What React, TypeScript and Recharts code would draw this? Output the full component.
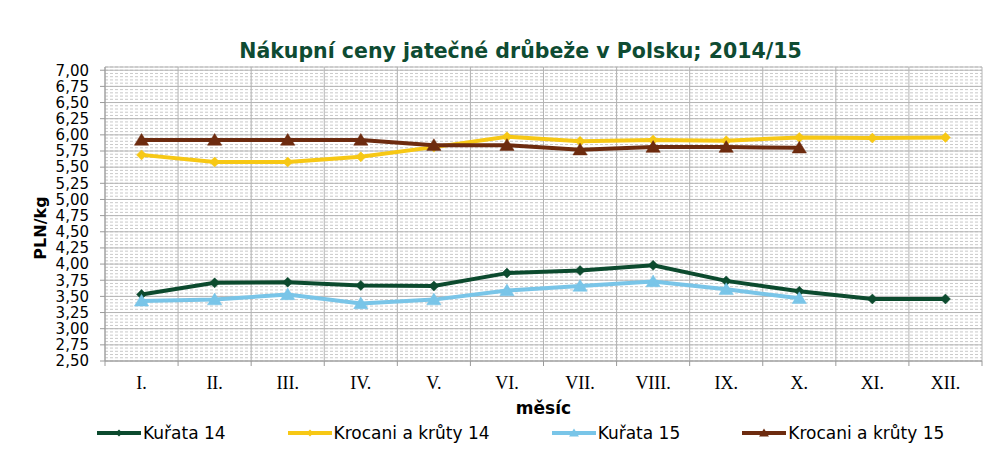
import React from 'react';
import { LineChart, Line, XAxis, YAxis, CartesianGrid, Legend, ReferenceLine } from 'recharts';

const months = ['I.', 'II.', 'III.', 'IV.', 'V.', 'VI.', 'VII.', 'VIII.', 'IX.', 'X.', 'XI.', 'XII.'];
const kurata14 = [3.53, 3.71, 3.72, 3.67, 3.66, 3.86, 3.9, 3.98, 3.74, 3.58, 3.46, 3.46];
const krocani14 = [5.69, 5.58, 5.58, 5.66, 5.81, 5.97, 5.9, 5.92, 5.91, 5.96, 5.95, 5.96];
const kurata15 = [3.43, 3.45, 3.53, 3.39, 3.45, 3.59, 3.66, 3.73, 3.61, 3.47, null, null];
const krocani15 = [5.92, 5.92, 5.92, 5.92, 5.84, 5.84, 5.77, 5.81, 5.81, 5.8, null, null];

const yTicks = [2.5, 2.75, 3.0, 3.25, 3.5, 3.75, 4.0, 4.25, 4.5, 4.75, 5.0, 5.25, 5.5, 5.75, 6.0, 6.25, 6.5, 6.75, 7.0];
const Y_MIN = 2.5;
const Y_MAX = 7.05;
const MINOR_STEP = 0.05;
const minorTicks: number[] = [];
for (let v = Y_MIN; v <= Y_MAX + 1e-9; v += MINOR_STEP) minorTicks.push(Math.round(v * 100) / 100);

const data = months.map((m, i) => ({
  m,
  k14: kurata14[i],
  t14: krocani14[i],
  k15: kurata15[i],
  t15: krocani15[i],
}));

type Series = { key: string; name: string; color: string; shape: 'diamond' | 'triangle' };
const series: Series[] = [
  { key: 'k14', name: 'Kuřata 14', color: '#0c4a2e', shape: 'diamond' },
  { key: 't14', name: 'Krocani a krůty 14', color: '#f7c815', shape: 'diamond' },
  { key: 'k15', name: 'Kuřata 15', color: '#79c5e8', shape: 'triangle' },
  { key: 't15', name: 'Krocani a krůty 15', color: '#6d2b0f', shape: 'triangle' },
];

const markerPath = (shape: string, cx: number, cy: number, r: number) =>
  shape === 'diamond'
    ? `M${cx},${cy - r}L${cx + r},${cy}L${cx},${cy + r}L${cx - r},${cy}Z`
    : `M${cx},${cy - r}L${cx + r * 1.1},${cy + r * 0.8}L${cx - r * 1.1},${cy + r * 0.8}Z`;

const makeDot = (s: Series) => (props: any) => {
  const { cx, cy, index, value } = props;
  if (cx == null || cy == null || value == null || Number.isNaN(cy)) return <g key={`d-${s.key}-${index}`} />;
  const r = s.shape === 'diamond' ? 5 : 6.5;
  return <path key={`d-${s.key}-${index}`} d={markerPath(s.shape, cx, cy, r)} fill={s.color} stroke={s.color} strokeWidth={0.5} />;
};

const renderLegend = () => (
  <div
    style={{
      display: 'flex',
      alignItems: 'center',
      paddingLeft: 97,
      gap: 62,
      fontFamily: '"DejaVu Sans", Verdana, sans-serif',
      fontSize: 17,
      color: '#000',
      height: 20,
      lineHeight: '20px',
    }}
  >
    {series.map((s) => (
      <div key={s.key} style={{ display: 'flex', alignItems: 'center' }}>
        <svg width={44} height={14} style={{ display: 'block' }}>
          <line x1={0} y1={7} x2={44} y2={7} stroke={s.color} strokeWidth={4} />
          <path d={markerPath(s.shape, 22, 7, s.shape === 'diamond' ? 3.5 : 4.5)} fill={s.color} />
        </svg>
        <span style={{ marginLeft: 2, whiteSpace: 'nowrap' }}>{s.name}</span>
      </div>
    ))}
  </div>
);

const fmt = (v: number) => v.toFixed(2).replace('.', ',');
const GRID = '#b4b4b4';
const MINOR = '#c9c9c9';
const AXIS = '#9a9a9a';
const X_TICK_MARGIN = 15;

// vertical gridlines at category band boundaries, taken from the category axis range
const boundaryGen = (args: any) => {
  const ax = args?.xAxis;
  if (!ax) return [];
  let r: any = ax.range;
  const s = ax.scale;
  if ((!r || r.length < 2) && s && typeof s.range === 'function') r = s.range();
  if (!r || r.length < 2) {
    const off = args.offset;
    if (!off) return [];
    r = [off.left, off.left + off.width];
  }
  const a = Math.min(r[0], r[1]);
  const b = Math.max(r[0], r[1]);
  const n = months.length;
  return Array.from({ length: n + 1 }, (_, i) => a + ((b - a) * i) / n);
};

const XTick = (props: any) => {
  const { x, y, payload, index, visibleTicksCount, width } = props;
  let half = payload && payload.offset > 3 ? payload.offset : 0;
  if (!half && width && visibleTicksCount) half = width / visibleTicksCount / 2;
  const axisY = y - X_TICK_MARGIN;
  return (
    <g>
      <line x1={x - half} x2={x - half} y1={axisY} y2={axisY + 5} stroke={AXIS} />
      {index === visibleTicksCount - 1 && <line x1={x + half} x2={x + half} y1={axisY} y2={axisY + 5} stroke={AXIS} />}
      <text
        x={x}
        y={y}
        dy="0.71em"
        textAnchor="middle"
        style={{ fontFamily: '"Liberation Serif", "Times New Roman", serif', fontSize: 18, fill: '#000' }}
      >
        {payload.value}
      </text>
    </g>
  );
};

export default function App() {
  return (
    <div style={{ position: 'absolute', left: 0, top: 0, width: 1004, height: 455, background: '#fff' }}>
      <div
        style={{
          position: 'absolute',
          left: 0,
          top: 39,
          width: 1041,
          textAlign: 'center',
          fontFamily: '"DejaVu Sans", Verdana, sans-serif',
          fontWeight: 'bold',
          fontSize: 20.5,
          lineHeight: '24px',
          color: '#0e4b32',
          whiteSpace: 'nowrap',
        }}
      >
        Nákupní ceny jatečné drůbeže v Polsku; 2014/15
      </div>
      <LineChart width={1004} height={455} data={data} margin={{ top: 67, right: 22, bottom: 44, left: 0 }}>
        <YAxis
          yAxisId="main"
          type="number"
          width={105}
          domain={[Y_MIN, Y_MAX]}
          allowDataOverflow
          ticks={yTicks}
          interval={0}
          tickFormatter={fmt}
          tickSize={5}
          tickMargin={11}
          tick={{ fontFamily: '"DejaVu Sans", Verdana, sans-serif', fontSize: 15, fill: '#000' }}
          axisLine={{ stroke: AXIS }}
          tickLine={{ stroke: AXIS }}
          label={{
            content: () => (
              <text
                x={46}
                y={228}
                transform="rotate(-90 46 228)"
                textAnchor="middle"
                style={{ fontFamily: '"DejaVu Sans", Verdana, sans-serif', fontWeight: 'bold', fontSize: 16, fill: '#000' }}
              >
                PLN/kg
              </text>
            ),
          }}
        />
        <XAxis
          xAxisId="cat"
          dataKey="m"
          scale="band"
          height={30}
          interval={0}
          axisLine={{ stroke: AXIS }}
          tickLine={false}
          tickSize={0}
          tickMargin={X_TICK_MARGIN}
          tick={<XTick />}
          label={{
            content: (p: any) => {
              const vb = p.viewBox || { x: 105, width: 877 };
              return (
                <text
                  x={vb.x + vb.width / 2}
                  y={414}
                  textAnchor="middle"
                  style={{ fontFamily: '"DejaVu Sans", Verdana, sans-serif', fontWeight: 'bold', fontSize: 17, fill: '#000' }}
                >
                  měsíc
                </text>
              );
            },
          }}
        />
        <CartesianGrid
          yAxisId="main"
          xAxisId="cat"
          vertical={false}
          horizontalValues={minorTicks}
          stroke={MINOR}
          strokeDasharray="3 2"
        />
        <CartesianGrid
          yAxisId="main"
          xAxisId="cat"
          horizontalValues={yTicks}
          verticalCoordinatesGenerator={boundaryGen}
          stroke={GRID}
        />
        <ReferenceLine yAxisId="main" xAxisId="cat" y={Y_MAX} stroke={GRID} />
        <Legend
          verticalAlign="bottom"
          content={renderLegend}
          wrapperStyle={{ left: 0, top: 423, bottom: 'auto', width: 1004, height: 20 }}
        />
        {series.map((s) => (
          <Line
            key={s.key}
            yAxisId="main"
            xAxisId="cat"
            type="linear"
            dataKey={s.key}
            name={s.name}
            stroke={s.color}
            strokeWidth={4}
            dot={makeDot(s)}
            activeDot={false}
            isAnimationActive={false}
            connectNulls={false}
          />
        ))}
      </LineChart>
    </div>
  );
}
